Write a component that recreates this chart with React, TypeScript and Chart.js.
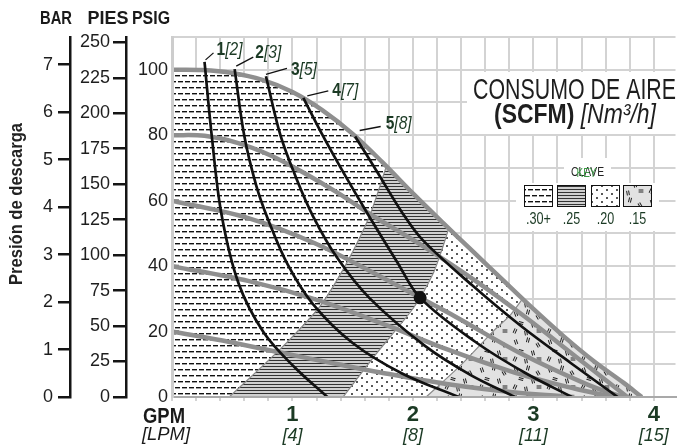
import { useEffect, useRef } from 'react';
import { Chart, registerables } from 'chart.js';

Chart.register(...registerables);

type P = [number, number];

// ---------- text / ticks ----------
const GPM_TICKS = [1, 2, 3, 4];
const GPM_LABELS = ['1', '2', '3', '4'];
const LPM_LABELS = ['[4]', '[8]', '[11]', '[15]'];
const PSIG_LABELED = [0, 20, 40, 60, 80, 100];
const AXIS_HEADERS = ['BAR', 'PIES', 'PSIG'];
const Y_TITLE = 'Presión de descarga';
const X_TITLE = 'GPM';
const X_SUBTITLE = '[LPM]';
const TITLE_LINE_1 = 'CONSUMO DE AIRE';
const TITLE_BOLD = '(SCFM)';
const TITLE_ITALIC = '[Nm³/h]';
const KEY_ES = 'CLAVE';
const KEY_EN = 'KEY';
const ZONE_LABELS = ['.30+', '.25', '.20', '.15'];
const SCFM_LABELS = ['1', '2', '3', '4', '5'];
const NM3H_LABELS = ['[2]', '[3]', '[5]', '[7]', '[8]'];

// ---------- scale ranges / unit conversions ----------
const X_MAX = 4.18;
const PSI_MAX = 110;
const PSI_PER_BAR = 14.5038;
const FT_PER_PSI = 2.3067;

// ---------- air inlet pressure curves (GPM, psig) ----------
const AIR_100: P[] = [[0, 100], [0.25, 99.9], [0.5, 99], [0.75, 96.9], [1, 93.2], [1.25, 87.6], [1.5, 80.4], [1.75, 71.6], [2, 62.2], [2.25, 53.2], [2.5, 44.4], [2.75, 35.6], [3, 26.9], [3.25, 18.6], [3.5, 11], [3.75, 4.3], [3.9, 0]];
const AIR_80: P[] = [[0, 80], [0.27, 79.8], [0.55, 77.6], [0.82, 73.8], [1.09, 68.6], [1.37, 62.5], [1.64, 56], [2.08, 46.2], [2.52, 35.5], [2.93, 24.5], [3.34, 12.7], [3.78, 0]];
const AIR_60: P[] = [[0, 60], [0.64, 54.6], [1.19, 46.9], [1.73, 36.8], [2.06, 30.3], [2.35, 24.6], [2.9, 13.2], [3.45, 3.8], [3.74, 0]];
const AIR_40: P[] = [[0, 40], [0.64, 35.4], [1.21, 29.6], [1.79, 21.8], [2.28, 14.6], [2.85, 7.4], [3.34, 2.6], [3.67, 0]];
const AIR_20: P[] = [[0, 20], [0.48, 16.8], [0.91, 13.5], [1.38, 10], [1.73, 7.5], [2.28, 4], [2.85, 1.4], [3.34, 0]];

// ---------- air consumption curves (GPM, psig) ----------
const SCFM_1: P[] = [[0.27, 102.4], [0.33, 79.8], [0.41, 56], [0.55, 35], [0.76, 19.8], [1.02, 9], [1.29, 0]];
const SCFM_2: P[] = [[0.52, 100.2], [0.6, 79.8], [0.7, 64.5], [0.8, 54], [0.96, 40.5], [1.17, 28.4], [1.5, 16.5], [1.91, 7.2], [2.38, 0]];
const SCFM_3: P[] = [[0.78, 98], [0.9, 80], [1.03, 67], [1.17, 55.3], [1.37, 42.6], [1.64, 30.2], [2.1, 15.6], [2.48, 6.7], [2.85, 0]];
const SCFM_4: P[] = [[1.09, 91.4], [1.25, 80], [1.42, 68.8], [1.64, 55], [1.87, 41.2], [2.06, 30.3], [2.52, 16.8], [2.93, 7.4], [3.32, 0]];
const SCFM_5: P[] = [[1.52, 79.6], [1.7, 69], [1.91, 56.4], [2.08, 48], [2.49, 34.2], [2.9, 21.6], [3.31, 10.4], [3.7, 0]];

// ---------- efficiency zone edges (GPM, psig), bottom to top ----------
const EDGE_30_25: P[] = [[0.475, 0], [0.9, 14.7], [1.23, 27.8], [1.45, 40.9], [1.64, 55.3], [1.78, 70.5]];
const EDGE_25_20: P[] = [[1.42, 0], [1.7, 13.4], [2.01, 27.5], [2.17, 37.9], [2.24, 44.9], [2.3, 51.8]];
const EDGE_20_15: P[] = [[2.11, 0], [2.4, 9.8], [2.67, 20.2], [2.81, 25.1], [2.91, 30]];

const OPERATING_POINT: P[] = [[2.06, 30.3]];

// label leader-line / text offsets (px) relative to each curve's first point
const LABEL_LAYOUT = [
  [1, -2, 9, -9, 12, -7],
  [1.6, -3, 18.6, -12, 20.6, -11],
  [0, -2, 21, -8, 25, -1],
  [4, -2, 25, -7, 29, -2],
  [4.6, -6, 25.6, -10, 30.6, -7],
];

function hasFont(name: string): boolean {
  const g = document.createElement('canvas').getContext('2d')!;
  const s = 'mmmmmmmmmmlliWW0123456789';
  g.font = '40px monospace';
  const a = g.measureText(s).width;
  g.font = `40px "${name}", monospace`;
  const b = g.measureText(s).width;
  return Math.abs(a - b) > 0.5;
}

function tile(w: number, h: number, bg: string, draw: (g: CanvasRenderingContext2D) => void): CanvasPattern {
  const c = document.createElement('canvas');
  c.width = w;
  c.height = h;
  const g = c.getContext('2d')!;
  g.fillStyle = bg;
  g.fillRect(0, 0, w, h);
  draw(g);
  return g.createPattern(c, 'repeat')!;
}

function makePatterns() {
  const dash = tile(14, 12, '#ffffff', (g) => {
    const seg = (x: number, y: number) => {
      g.fillStyle = '#111';
      g.fillRect(x, y, 5, 1); g.fillRect(x - 14, y, 5, 1);
      g.fillStyle = 'rgba(17,17,17,0.4)';
      g.fillRect(x, y + 1, 5, 1); g.fillRect(x - 14, y + 1, 5, 1);
    };
    seg(0, 3); seg(7, 3); seg(3, 9); seg(10, 9);
  });
  const lines = tile(4, 3, '#d0d0d0', (g) => {
    g.fillStyle = '#333';
    g.fillRect(0, 0, 4, 1);
  });
  const dots = tile(10, 8, '#ffffff', (g) => {
    g.fillStyle = '#111';
    [[2, 2], [7, 6]].forEach(([x, y]) => { g.beginPath(); g.arc(x, y, 0.95, 0, Math.PI * 2); g.fill(); });
  });
  const marks = tile(34, 28, '#e2e2e2', (g) => {
    g.strokeStyle = '#222';
    g.lineWidth = 1;
    const spec = [[6, 6, 70], [18, 4, 105], [28, 9, 60], [11, 15, 15], [23, 17, 75], [5, 23, 115], [16, 25, 80], [29, 23, 0]];
    spec.forEach(([x, y, a]) => {
      g.save();
      g.translate(x, y);
      g.rotate((a * Math.PI) / 180);
      g.beginPath();
      g.moveTo(-2.4, -1); g.lineTo(2.4, -1);
      g.moveTo(-2.4, 1); g.lineTo(2.4, 1);
      g.stroke();
      g.restore();
    });
  });
  return [dash, lines, dots, marks];
}

type Part = { t: string; f: string };
function drawParts(ctx: CanvasRenderingContext2D, parts: Part[], x: number, y: number, align: 'left' | 'center', targetW: number, color: string) {
  ctx.save();
  let w = 0;
  const ws = parts.map((p) => { ctx.font = p.f; const m = ctx.measureText(p.t).width; w += m; return m; });
  const s = targetW > 0 ? targetW / w : 1;
  ctx.translate(x, y);
  ctx.scale(s, 1);
  let cx = align === 'center' ? -w / 2 : 0;
  ctx.fillStyle = color;
  ctx.textBaseline = 'alphabetic';
  ctx.textAlign = 'left';
  parts.forEach((p, i) => { ctx.font = p.f; ctx.fillText(p.t, cx, 0); cx += ws[i]; });
  ctx.restore();
}

export default function App() {
  const ref = useRef<HTMLCanvasElement>(null);

  useEffect(() => {
    const canvas = ref.current!;
    const narrow = hasFont('Liberation Sans Narrow');
    const FAM = narrow ? '"Liberation Sans Narrow", "Liberation Sans", sans-serif' : '"Liberation Sans", Arial, sans-serif';
    const GREEN = '#1b3a24';
    const [pDash, pLines, pDots, pMarks] = makePatterns();
    const zonePatterns = [pDash, pLines, pDots, pMarks];

    const xy = (a: P[]) => a.map(([x, y]) => ({ x, y }));
    const topBetween = (a: number, b: number) => AIR_100.filter(([x]) => x > a && x < b);
    const last = (a: P[]) => a[a.length - 1];
    const rev = (a: P[]) => a.slice().reverse();

    const zone30: P[] = [[0, 0], ...topBetween(-1, last(EDGE_30_25)[0]), ...rev(EDGE_30_25)];
    const zone25: P[] = [...EDGE_30_25, ...topBetween(last(EDGE_30_25)[0], last(EDGE_25_20)[0]), ...rev(EDGE_25_20)];
    const zone20: P[] = [...EDGE_25_20, ...topBetween(last(EDGE_25_20)[0], last(EDGE_20_15)[0]), ...rev(EDGE_20_15)];
    const zone15: P[] = [...EDGE_20_15, ...topBetween(last(EDGE_20_15)[0], 99), last(AIR_100)];
    const zones = [zone30, zone25, zone20, zone15];

    const airCurves = [AIR_100, AIR_80, AIR_60, AIR_40, AIR_20];
    const scfmCurves = [SCFM_1, SCFM_2, SCFM_3, SCFM_4, SCFM_5];
    const edges = [EDGE_30_25, EDGE_25_20, EDGE_20_15];

    const datasets: any[] = [];
    zones.forEach((z, i) => datasets.push({
      data: xy(z), showLine: true, fill: 'shape', backgroundColor: zonePatterns[i],
      borderWidth: 0, pointRadius: 0, tension: 0, order: 10,
    }));
    edges.forEach((e) => datasets.push({
      data: xy(e), showLine: true, fill: false, borderColor: '#8a8a8a', borderWidth: 1.2,
      pointRadius: 0, tension: 0.25, order: 9,
    }));
    airCurves.forEach((c) => datasets.push({
      data: xy(c), showLine: true, fill: false, borderColor: '#8f8f8f', borderWidth: 4.5,
      pointRadius: 0, tension: 0.35, order: 5,
    }));
    scfmCurves.forEach((c) => datasets.push({
      data: xy(c), showLine: true, fill: false, borderColor: '#111', borderWidth: 2.7,
      pointRadius: 0, tension: 0.35, order: 2,
    }));
    datasets.push({
      data: xy(OPERATING_POINT), showLine: false, pointRadius: 6.5,
      pointBackgroundColor: '#111', pointBorderWidth: 0, order: 1,
    });

    const annotate = {
      id: 'annotate',
      beforeDatasetsDraw(chart: any) {
        const ctx: CanvasRenderingContext2D = chart.ctx;
        ctx.save();
        ctx.fillStyle = '#ffffff';
        ctx.fillRect(467, 72, 215, 62);
        ctx.fillRect(564, 158, 47, 26);
        ctx.fillRect(516, 183, 143, 48);
        ctx.restore();
      },
      afterDatasetsDraw(chart: any) {
        const ctx: CanvasRenderingContext2D = chart.ctx;
        const xs = chart.scales.x;
        const ys = chart.scales.y;

        // small PSIG marks on plot edge
        ctx.save();
        ctx.fillStyle = '#8d8d8d';
        PSIG_LABELED.filter((v) => v > 0).forEach((v) => {
          const py = ys.getPixelForValue(v);
          ctx.fillRect(xs.left + 1, py - 1.5, 6, 3);
        });
        ctx.restore();

        // consumption curve labels
        scfmCurves.forEach((c, i) => {
          const px = xs.getPixelForValue(c[0][0]);
          const py = ys.getPixelForValue(c[0][1]);
          const L = LABEL_LAYOUT[i];
          ctx.save();
          ctx.strokeStyle = '#111';
          ctx.lineWidth = 1.3;
          ctx.beginPath();
          ctx.moveTo(px + L[0], py + L[1]);
          ctx.lineTo(px + L[2], py + L[3]);
          ctx.stroke();
          ctx.restore();
          drawParts(ctx, [{ t: SCFM_LABELS[i], f: `bold 19px ${FAM}` }, { t: NM3H_LABELS[i], f: `italic 19px ${FAM}` }], px + L[4], py + L[5], 'left', 26, GREEN);
        });

        // title
        drawParts(ctx, [{ t: TITLE_LINE_1, f: `29px ${FAM}` }], 574.5, 99, 'center', 203, '#1e1e1e');
        drawParts(ctx, [{ t: TITLE_BOLD, f: `bold 28px ${FAM}` }, { t: ' ', f: `28px ${FAM}` }, { t: TITLE_ITALIC, f: `italic 28px ${FAM}` }], 575, 123, 'center', 162, '#1e1e1e');

        // key
        drawParts(ctx, [{ t: KEY_ES, f: `13px ${FAM}` }], 587.5, 176, 'center', 33, '#222');
        drawParts(ctx, [{ t: KEY_EN, f: `13px ${FAM}` }], 586.5, 176.5, 'center', 20, '#3c9a45');
        const swX = [524, 557, 591, 623];
        swX.forEach((sx, i) => {
          ctx.save();
          ctx.fillStyle = zonePatterns[i];
          ctx.fillRect(sx, 185, 29, 22);
          ctx.strokeStyle = '#111';
          ctx.lineWidth = 1;
          ctx.strokeRect(sx + 0.5, 185.5, 28, 21);
          ctx.restore();
          drawParts(ctx, [{ t: ZONE_LABELS[i], f: `17px ${FAM}` }], sx + 14.5, 223.5, 'center', i === 0 ? 25 : 17.5, GREEN);
        });

        // axis headers
        const hx = [56, 108, 151];
        const hw = [32, 41, 38];
        AXIS_HEADERS.forEach((h, i) => drawParts(ctx, [{ t: h, f: `bold 19px ${FAM}` }], hx[i], 23.5, 'center', hw[i], '#1a1a1a'));

        // rotated y title
        ctx.save();
        ctx.translate(21.5, 204);
        ctx.rotate(-Math.PI / 2);
        drawParts(ctx, [{ t: Y_TITLE, f: `bold 19px ${FAM}` }], 0, 0, 'center', 162, '#222');
        ctx.restore();

        // x titles
        drawParts(ctx, [{ t: X_TITLE, f: `bold 22px ${FAM}` }], 164, 423, 'center', 42, '#1a1a1a');
        drawParts(ctx, [{ t: X_SUBTITLE, f: `italic 18px ${FAM}` }], 166, 440, 'center', 48, '#1a1a1a');
      },
    };

    const chart = new Chart(canvas, {
      type: 'scatter',
      data: { datasets },
      plugins: [annotate],
      options: {
        responsive: false,
        animation: false,
        devicePixelRatio: 1,
        events: [],
        layout: { padding: { top: 37, left: 0, right: 0, bottom: 0 } },
        plugins: { legend: { display: false }, tooltip: { enabled: false } },
        scales: {
          x: {
            type: 'linear', position: 'bottom', min: 0, max: X_MAX, weight: 0,
            ticks: {
              stepSize: 0.2, includeBounds: false, autoSkip: false, maxRotation: 0, padding: 1,
              color: GREEN, font: { family: FAM, size: 22, weight: 'bold' },
              callback: (v: any) => {
                const n = Math.round(Number(v));
                const i = GPM_TICKS.indexOf(n);
                return Math.abs(Number(v) - n) < 1e-6 && i >= 0 ? GPM_LABELS[i] : '';
              },
            },
            grid: { color: '#d3d3d3', lineWidth: 2, tickLength: 4, drawTicks: true },
            border: { color: '#a9a9a9', width: 2, z: 1 },
            afterFit: (s: any) => { s.height = 28; },
          },
          x2: {
            type: 'linear', position: 'bottom', min: 0, max: X_MAX, weight: 1,
            grid: { display: false, drawTicks: false },
            border: { display: false },
            ticks: {
              stepSize: 1, includeBounds: false, autoSkip: false, maxRotation: 0, padding: 0,
              color: GREEN, font: { family: FAM, size: 18, style: 'italic' },
              callback: (v: any) => {
                const n = Math.round(Number(v));
                const i = GPM_TICKS.indexOf(n);
                return i >= 0 ? LPM_LABELS[i] : '';
              },
            },
            afterFit: (s: any) => { s.height = 20; },
          },
          y: {
            type: 'linear', position: 'left', min: 0, max: PSI_MAX, weight: 0,
            ticks: {
              stepSize: 10, autoSkip: false, padding: 4, color: '#1e1e1e', font: { family: FAM, size: 18 },
              callback: (v: any) => (PSIG_LABELED.includes(Number(v)) ? String(v) : ''),
            },
            grid: { color: '#d3d3d3', lineWidth: 2, drawTicks: false },
            border: { color: '#cdcdcd', width: 3, z: 1 },
            afterFit: (s: any) => { s.width = 46; },
          },
          pies: {
            type: 'linear', position: 'left', min: 0, max: PSI_MAX * FT_PER_PSI, weight: 1,
            ticks: { stepSize: 25, includeBounds: false, autoSkip: false, padding: 3, color: '#1e1e1e', font: { family: FAM, size: 18 } },
            grid: { drawOnChartArea: false, color: '#151515', lineWidth: 2.5, tickLength: 13 },
            border: { color: '#151515', width: 2.5 },
            afterFit: (s: any) => { s.width = 56; },
          },
          bar: {
            type: 'linear', position: 'left', min: 0, max: PSI_MAX / PSI_PER_BAR, weight: 2,
            ticks: { stepSize: 1, includeBounds: false, autoSkip: false, padding: 5, color: '#1e1e1e', font: { family: FAM, size: 18 } },
            grid: { drawOnChartArea: false, color: '#151515', lineWidth: 2.5, tickLength: 12 },
            border: { color: '#151515', width: 2.5 },
            afterFit: (s: any) => { s.width = 70; },
          },
        },
      } as any,
    });

    return () => chart.destroy();
  }, []);

  return (
    <div style={{ position: 'absolute', left: 0, top: 0, width: 682, height: 445, background: '#fff' }}>
      <canvas ref={ref} width={682} height={445} style={{ display: 'block', width: 682, height: 445 }} />
    </div>
  );
}
